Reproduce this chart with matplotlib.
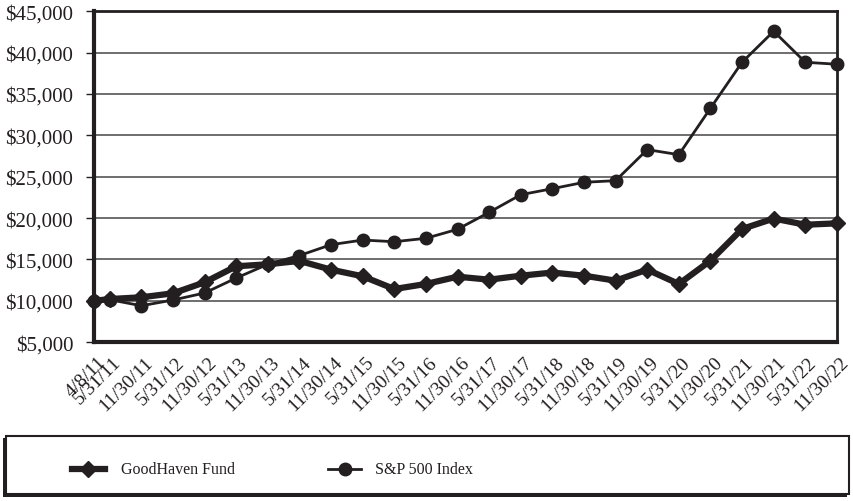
import numpy as np
import matplotlib
matplotlib.use("Agg")
import matplotlib.pyplot as plt
import matplotlib.transforms as mtransforms
from matplotlib.lines import Line2D
from matplotlib.patches import Rectangle
from matplotlib.ticker import FuncFormatter

# Data
dates = ["4/8/11", "5/31/11", "11/30/11", "5/31/12", "11/30/12", "5/31/13",
         "11/30/13", "5/31/14", "11/30/14", "5/31/15", "11/30/15", "5/31/16",
         "11/30/16", "5/31/17", "11/30/17", "5/31/18", "11/30/18", "5/31/19",
         "11/30/19", "5/31/20", "11/30/20", "5/31/21", "11/30/21", "5/31/22",
         "11/30/22"]
fund = [10000, 10220, 10430, 10910, 12240, 14180, 14420, 14830, 13770,
        12970, 11430, 12040, 12920, 12560, 13040, 13420, 13040, 12440,
        13780, 12040, 14860, 18690, 19950, 19200, 19370]
sp500 = [10000, 10140, 9410, 10100, 10950, 12760, 14420, 15480, 16790,
         17350, 17150, 17560, 18650, 20700, 22830, 23560, 24330, 24530,
         28280, 27670, 33280, 38840, 42590, 38840, 38600]

# first period is short (4/8 -> 5/31), the rest are half-years
xpos = np.r_[0.0, np.arange(1, len(dates)) - 0.5]

ink = '#231f20'
plt.rcParams['font.family'] = ['Liberation Serif', 'DejaVu Serif']

fig = plt.figure(figsize=(8.54, 5.02), dpi=100)
ax = fig.add_axes([0.110, 0.3163, 0.870, 0.6592])

ax.plot(xpos, sp500, color=ink, linewidth=2, marker='o', markersize=9,
        zorder=3, clip_on=False)
ax.plot(xpos, fund, color=ink, linewidth=4.5, marker='D', markersize=8,
        zorder=4, clip_on=False)

ax.set_xlim(xpos[0], xpos[-1])
ax.set_ylim(5000, 45000)
ax.set_yticks(np.arange(5000, 45001, 5000))
ax.yaxis.set_major_formatter(FuncFormatter(lambda v, p: f"${v:,.0f}"))
ax.set_xticks(xpos)
ax.set_xticklabels(dates, rotation=45, ha='right', va='center',
                   rotation_mode='anchor', fontsize=14)
ax.tick_params(axis='x', length=0, pad=0)
ax.tick_params(axis='y', length=6, width=1, color=ink, labelsize=15,
               labelcolor=ink, pad=9)
# nudge the date labels so their ends sit just right of/below each point
shift = mtransforms.ScaledTranslation(9 / 100, -17 / 100, fig.dpi_scale_trans)
for lab in ax.get_xticklabels():
    lab.set_transform(lab.get_transform() + shift)
    lab.set_color(ink)
ax.grid(axis='y', color='#555555', linewidth=1.2)
ax.set_axisbelow(True)

for side, w in [('left', 3), ('bottom', 3), ('top', 2), ('right', 2)]:
    ax.spines[side].set_linewidth(w)
    ax.spines[side].set_color(ink)

# Legend box with a drop shadow
shadow = Rectangle((0.004, 0.008), 0.988, 0.118, transform=fig.transFigure,
                   facecolor=ink, edgecolor='none')
box = Rectangle((0.007, 0.013), 0.987, 0.117, transform=fig.transFigure,
                facecolor='white', edgecolor=ink, linewidth=1.5)
fig.patches.extend([shadow, box])

ly = 0.064
fig.lines.append(Line2D([0.084, 0.103, 0.123], [ly, ly, ly],
                        transform=fig.transFigure, color=ink, linewidth=4.5,
                        marker='D', markersize=8, markevery=[1]))
fig.text(0.142, ly, "GoodHaven Fund", fontsize=11.5, color=ink, va='center')
fig.lines.append(Line2D([0.384, 0.404, 0.423], [ly, ly, ly],
                        transform=fig.transFigure, color=ink, linewidth=2,
                        marker='o', markersize=9, markevery=[1]))
fig.text(0.439, ly, "S&P 500 Index", fontsize=11.5, color=ink, va='center')

fig.savefig("out.png", dpi=100)
